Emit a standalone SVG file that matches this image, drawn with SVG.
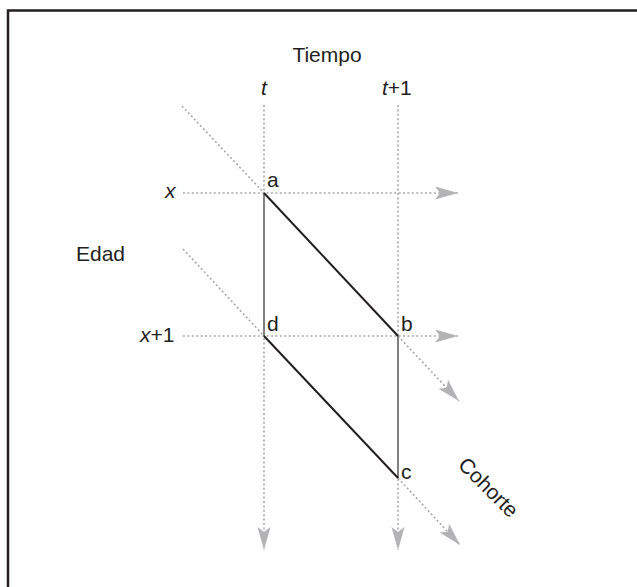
<svg xmlns="http://www.w3.org/2000/svg" width="637" height="587" viewBox="0 0 637 587">
<style>
text{font-family:"Liberation Sans",Arial,sans-serif;font-size:21px;fill:#231f20}
.it{font-style:italic}
.dot{stroke:#a7a9ac;stroke-width:1.6;stroke-dasharray:2 2.4;fill:none}
.arr{marker-end:url(#ah)}
.solid{stroke:#808080;stroke-width:2;fill:none}
.diag{stroke:#231f20;stroke-width:2;fill:none}
</style>
<defs>
<marker id="ah" markerUnits="userSpaceOnUse" markerWidth="24" markerHeight="14" refX="23" refY="6.5" orient="auto" viewBox="0 0 24 14">
<path d="M0,0 L23,6.5 L0,13 L5,6.5 Z" fill="#b3b3b5"/>
</marker>
</defs>
<rect x="8" y="10.5" width="640" height="590" fill="#fff" stroke="#231f20" stroke-width="2.5"/>
<g id="connectors">
<line class="dot arr" x1="183" y1="193" x2="458" y2="193"/>
<line class="dot arr" x1="183" y1="336" x2="458" y2="336"/>
<line class="dot arr" x1="264" y1="105" x2="264" y2="550"/>
<line class="dot arr" x1="398" y1="105" x2="398" y2="550"/>
<line class="dot" x1="182" y1="106" x2="264" y2="193"/>
<line class="dot" x1="183" y1="249" x2="264" y2="336"/>
<line class="dot arr" x1="398" y1="336" x2="459" y2="401"/>
<line class="dot arr" x1="398" y1="478" x2="460" y2="545"/>
<line class="solid" x1="264" y1="193" x2="264" y2="336"/>
<line class="solid" x1="398" y1="336" x2="398" y2="478"/>
<line class="diag" x1="264" y1="193" x2="398" y2="336"/>
<line class="diag" x1="264" y1="336" x2="398" y2="478"/>
</g>
<g id="labels">
<text x="327" y="62" text-anchor="middle">Tiempo</text>
<text class="it" x="264" y="95" text-anchor="middle">t</text>
<text x="382" y="95"><tspan class="it">t</tspan>+1</text>
<text class="it" x="165" y="198">x</text>
<text x="76" y="261">Edad</text>
<text x="140" y="342"><tspan class="it">x</tspan>+1</text>
<text transform="translate(457,466) rotate(45)">Cohorte</text>
</g>
<g id="a"><text x="267" y="187">a</text></g>
<g id="b"><text x="401" y="331">b</text></g>
<g id="c"><text x="401" y="479">c</text></g>
<g id="d"><text x="267" y="331">d</text></g>
</svg>
